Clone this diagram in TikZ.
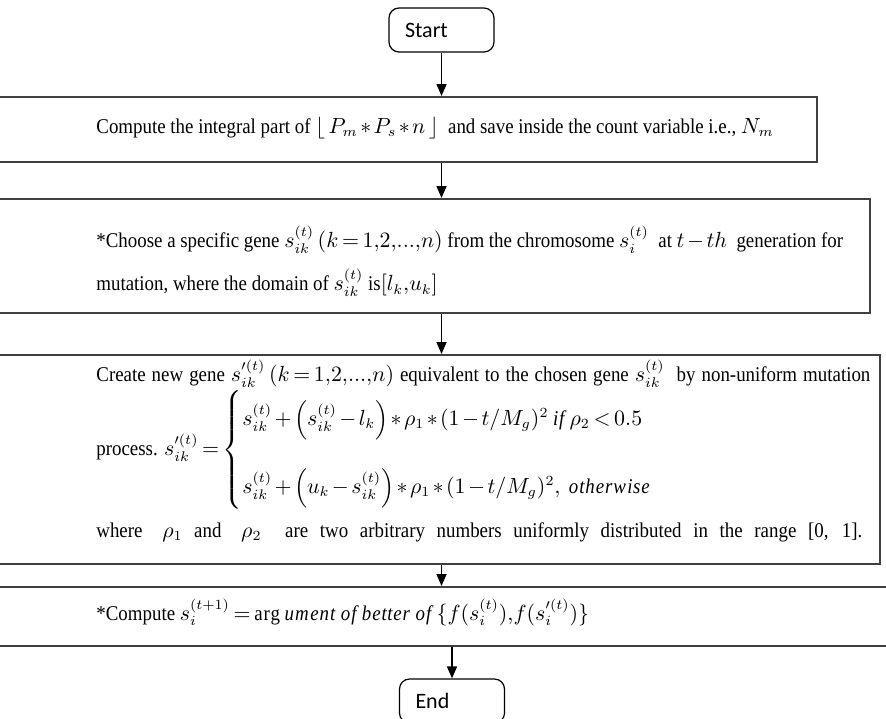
\documentclass[tikz,border=0pt]{standalone}
\usepackage{amsmath}
\usepackage{fontspec}
\setmainfont[FakeStretch=0.9]{Liberation Serif}
\newfontfamily\calibri{Carlito}
\usetikzlibrary{arrows.meta}
\newcommand\tightmath{\medmuskip=2mu\relax\thickmuskip=3mu\relax}

\tikzset{
  stepbox/.style={draw=black!75, line width=0.9pt, inner sep=0pt},
  termbox/.style={draw=black, line width=0.6pt, rounded corners=5pt,
    font=\calibri\fontsize{11}{13}\selectfont, text width=36.5pt,
    align=left, inner xsep=8pt, minimum height=22pt},
  txt/.style={inner sep=0pt, anchor=west,
    font=\fontsize{10.5}{20}\selectfont\tightmath},
  arr/.style={-{Triangle[width=5pt,length=6pt]}, line width=0.8pt}
}

\begin{document}
\begin{tikzpicture}[x=0.5pt,y=-0.5pt]
  \useasboundingbox (0,0) rectangle (886,718);
  \clip (0,0) rectangle (886,718);
  % terminals
  \node[termbox] (start) at (441.5,30) {Start};
  \node[termbox] (fin) at (452,701) {End};
  % process boxes
  \node[stepbox, anchor=north west, minimum width=413pt, minimum height=32.5pt] (b1) at (-10,96) {};
  \node[stepbox, anchor=north west, minimum width=439.5pt, minimum height=57pt] (b2) at (-10,198) {};
  \node[stepbox, anchor=north west, minimum width=444.5pt, minimum height=104.5pt] (b3) at (-10,354) {};
  \node[stepbox, anchor=north west, minimum width=460pt, minimum height=29.5pt] (b4) at (-10,586) {};
  % texts
  \node[txt] (t1) at (96,128) {Compute the integral part of $\left\lfloor\, P_m * P_s * n \,\right\rfloor$ \ and save inside the count variable i.e., $N_m$};
  \node[txt] (t2a) at (96,240) {*Choose a specific gene $s^{(t)}_{ik}\,(k=1{,}2{,}...{,}n)$ from the chromosome $s^{(t)}_{i}$ \ at $t-th$ \ generation for};
  \node[txt] (t2b) at (96,283) {mutation, where the domain of $s^{(t)}_{ik}$ is$[l_k{,}u_k]$};
  \node[txt] (t3a) at (96,374) {\hbox to 387pt{Create new gene $s'^{(t)}_{ik}\,(k=1{,}2{,}...{,}n)$ equivalent to the chosen gene $s^{(t)}_{ik}$ \ by non-uniform mutation}};
  \node[txt] (t3b) at (96,450) {process. $s'^{(t)}_{ik} = \begin{cases}
      s^{(t)}_{ik} + \left(s^{(t)}_{ik} - l_k\right) * \rho_1 * (1-t/M_g)^2 \ \mathit{if}\ \rho_2 < 0.5 \\[10pt]
      s^{(t)}_{ik} + \left(u_k - s^{(t)}_{ik}\right) * \rho_1 * (1-t/M_g)^2,\ \mathit{otherwise}
    \end{cases}$};
  \node[txt] (t3c) at (96,532) {\hbox to 383pt{where \hspace{4pt}$\rho_1$ and \hspace{4pt}$\rho_2$\hspace{6pt} are two arbitrary numbers uniformly distributed in the range [0, 1].}};
  \node[txt] (t4) at (96,612) {*Compute $s^{(t+1)}_{i} = \arg\mathit{ument\ of\ better\ of}\ \{f(s^{(t)}_{i}){,} f(s'^{(t)}_{i})\}$};
  % connectors
  \draw[arr] (start) -- (start |- b1.north);
  \draw[arr] (b1.south -| start) -- (b2.north -| start);
  \draw[arr] (b2.south -| start) -- (b3.north -| start);
  \draw[arr] (b3.south -| start) -- (b4.north -| start);
  \draw[arr] (b4.south -| fin) -- (fin);
\end{tikzpicture}
\end{document}
